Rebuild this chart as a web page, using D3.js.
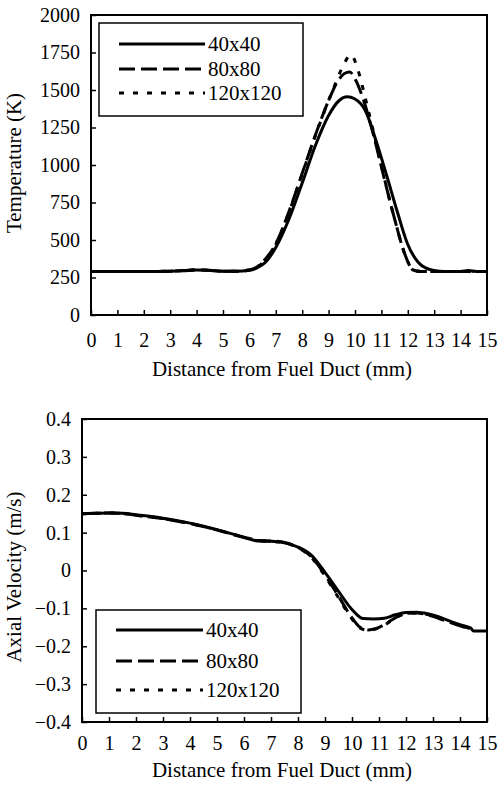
<!DOCTYPE html>
<html>
<head>
<meta charset="utf-8">
<script src="https://cdn.jsdelivr.net/npm/d3@7"></script>
<style>
  body { margin: 0; background: #fff; }
  svg text { font-family: 'Liberation Serif'; }
</style>
</head>
<body>
<script>
// grid series names
var meshes = ['40x40', '80x80', '120x120'];

// temperature (K) vs distance from fuel duct (mm)
var tempX40 = [0, 1, 2, 3, 3.5, 4, 4.5, 5, 5.5, 6, 6.3, 6.6, 7, 7.5, 8, 8.5, 9, 9.4, 9.7, 10, 10.4, 10.8, 11.2, 11.6, 12, 12.4, 12.8, 13.2, 13.6, 14, 14.3, 14.6, 15];
var temp40 = [290, 290, 290, 292, 295, 300, 297, 292, 292, 298, 315, 350, 450, 640, 880, 1130, 1330, 1430, 1455, 1440, 1360, 1160, 930, 690, 470, 350, 305, 292, 290, 290, 296, 290, 290];
var tempX80 = [0, 1, 2, 3, 3.5, 4, 4.5, 5, 5.5, 6, 6.3, 6.6, 7, 7.5, 8, 8.5, 9, 9.3, 9.6, 9.8, 10, 10.3, 10.7, 11.1, 11.5, 11.9, 12.2, 12.5, 13, 14, 14.5];
var temp80 = [290, 290, 290, 292, 296, 302, 298, 292, 292, 300, 322, 372, 475, 690, 945, 1200, 1430, 1545, 1610, 1620, 1575, 1445, 1200, 915, 640, 400, 300, 290, 290, 290, 290];
var tempX120 = [0, 1, 2, 3, 3.5, 4, 4.5, 5, 5.5, 6, 6.3, 6.6, 7, 7.5, 8, 8.5, 9, 9.3, 9.6, 9.85, 10.1, 10.4, 10.7, 11.1, 11.5, 11.9, 12.2, 12.5, 13, 14, 14.5];
var temp120 = [290, 290, 290, 292, 296, 302, 298, 292, 292, 300, 320, 368, 470, 685, 940, 1195, 1430, 1560, 1680, 1735, 1640, 1440, 1220, 920, 640, 400, 300, 290, 290, 290, 290];

// axial velocity (m/s) vs distance from fuel duct (mm)
var velX40 = [0, 0.5, 1, 1.5, 2, 3, 4, 5, 6, 6.5, 7, 7.5, 8, 8.5, 9, 9.5, 10, 10.4, 10.8, 11.2, 11.6, 12, 12.4, 12.8, 13.2, 13.6, 14, 14.4, 14.5, 15];
var vel40 = [0.150, 0.151, 0.152, 0.151, 0.147, 0.138, 0.125, 0.108, 0.088, 0.078, 0.077, 0.073, 0.062, 0.040, -0.005, -0.055, -0.103, -0.127, -0.128, -0.126, -0.117, -0.111, -0.110, -0.114, -0.122, -0.133, -0.143, -0.152, -0.160, -0.160];
var velX80 = [0, 0.5, 1, 1.5, 2, 3, 4, 5, 6, 6.5, 7, 7.5, 8, 8.5, 9, 9.5, 10, 10.3, 10.6, 10.9, 11.2, 11.6, 12, 12.4, 12.8, 13.2, 13.6, 14, 14.4];
var vel80 = [0.150, 0.151, 0.152, 0.151, 0.146, 0.137, 0.124, 0.107, 0.087, 0.079, 0.078, 0.074, 0.061, 0.036, -0.012, -0.068, -0.125, -0.150, -0.157, -0.153, -0.143, -0.125, -0.113, -0.112, -0.117, -0.126, -0.136, -0.146, -0.155];
var velX120 = [0, 0.5, 1, 1.5, 2, 3, 4, 5, 6, 6.5, 7, 7.5, 8, 8.5, 9, 9.5, 10, 10.3, 10.6, 10.9, 11.2, 11.6, 12, 12.4, 12.8, 13.2, 13.6, 14, 14.4];
var vel120 = [0.150, 0.151, 0.152, 0.150, 0.146, 0.137, 0.124, 0.107, 0.088, 0.080, 0.077, 0.073, 0.060, 0.034, -0.015, -0.072, -0.128, -0.152, -0.158, -0.154, -0.144, -0.126, -0.114, -0.112, -0.116, -0.125, -0.135, -0.145, -0.154];

var xTicks = d3.range(0, 16, 1);
var tempTicks = [0, 250, 500, 750, 1000, 1250, 1500, 1750, 2000];
var velTicks = [-0.4, -0.3, -0.2, -0.1, 0, 0.1, 0.2, 0.3, 0.4];

var serif = 'Liberation Serif';
var dashes = ['none', '16,6', '5,9'];

function zip(xs, ys) {
  return xs.map(function(x, i) { return { x: x, y: ys[i] }; });
}

var svg = d3.select('body').append('svg')
  .attr('width', 499)
  .attr('height', 789)
  .attr('font-family', serif);

function panel(opt) {
  var x = d3.scaleLinear().domain([0, 15]).range([opt.left, 487]);
  var y = d3.scaleLinear().domain(opt.domain).range([opt.bottom, opt.top]);
  var g = svg.append('g');

  function tidy(a) {
    a.select('.domain').remove();
    a.attr('font-family', serif).attr('font-size', 20);
    a.selectAll('line').attr('stroke-width', 1.5);
    a.selectAll('text').attr('font-family', serif).attr('fill', '#000');
  }

  g.append('g')
    .attr('transform', 'translate(0,' + opt.bottom + ')')
    .call(d3.axisBottom(x).tickValues(xTicks).tickSize(-5).tickSizeOuter(0).tickPadding(opt.xPad))
    .call(tidy);

  g.append('g')
    .attr('transform', 'translate(' + opt.left + ',0)')
    .call(d3.axisLeft(y).tickValues(opt.ticks).tickFormat(opt.fmt).tickSize(-5).tickSizeOuter(0).tickPadding(11))
    .call(tidy);

  var line = d3.line()
    .x(function(d) { return x(d.x); })
    .y(function(d) { return y(d.y); })
    .curve(d3.curveMonotoneX);

  g.selectAll('path.series')
    .data(opt.series)
    .enter()
    .append('path')
    .attr('class', 'series')
    .attr('d', line)
    .attr('fill', 'none')
    .attr('stroke', '#000')
    .attr('stroke-width', 3)
    .attr('stroke-dasharray', function(d, i) { return dashes[i]; });

  g.append('rect')
    .attr('x', opt.left)
    .attr('y', opt.top)
    .attr('width', 487 - opt.left)
    .attr('height', opt.bottom - opt.top)
    .attr('fill', 'none')
    .attr('stroke', '#000')
    .attr('stroke-width', 2);

  // legend box
  var lg = opt.legend;
  g.append('rect')
    .attr('x', lg.x)
    .attr('y', lg.y)
    .attr('width', lg.w)
    .attr('height', lg.h)
    .attr('fill', '#fff')
    .attr('stroke', '#000')
    .attr('stroke-width', 1.5);

  meshes.forEach(function(m, i) {
    var ly = lg.rows[i];
    g.append('line')
      .attr('x1', lg.lx1).attr('x2', lg.lx2)
      .attr('y1', ly).attr('y2', ly)
      .attr('stroke', '#000')
      .attr('stroke-width', 3)
      .attr('stroke-dasharray', dashes[i]);
    g.append('text')
      .attr('x', lg.lx2 + 3)
      .attr('y', ly + 7)
      .attr('font-size', 21)
      .text(m);
  });

  g.append('text')
    .attr('x', 282)
    .attr('y', opt.titleY)
    .attr('text-anchor', 'middle')
    .attr('font-size', 21)
    .text('Distance from Fuel Duct (mm)');

  g.append('text')
    .attr('transform', 'translate(21,' + opt.yTitleY + ') rotate(-90)')
    .attr('text-anchor', 'middle')
    .attr('font-size', 21)
    .text(opt.yTitle);
}

panel({
  left: 91, top: 15, bottom: 315,
  domain: [0, 2000], ticks: tempTicks, fmt: d3.format('d'),
  xPad: 18, titleY: 376, yTitle: 'Temperature (K)', yTitleY: 163,
  series: [zip(tempX40, temp40), zip(tempX80, temp80), zip(tempX120, temp120)],
  legend: { x: 99, y: 23, w: 204, h: 93, lx1: 119, lx2: 205, rows: [44, 69, 93] }
});

panel({
  left: 82, top: 419, bottom: 722,
  domain: [-0.4, 0.4], ticks: velTicks, fmt: function(d) { return d === 0 ? '0' : d3.format('.1f')(d); },
  xPad: 14, titleY: 777, yTitle: 'Axial Velocity (m/s)', yTitleY: 577,
  series: [zip(velX40, vel40), zip(velX80, vel80), zip(velX120, vel120)],
  legend: { x: 96, y: 610, w: 205, h: 103, lx1: 116, lx2: 203, rows: [630, 661, 690] }
});
</script>
</body>
</html>
